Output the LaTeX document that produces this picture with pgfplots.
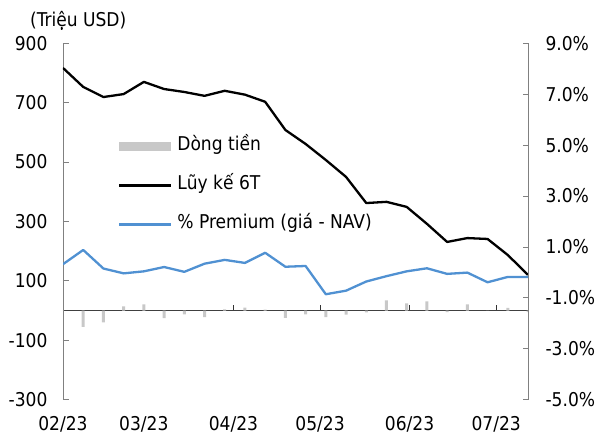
\documentclass[border=0pt]{standalone}
\usepackage{fontspec}
\setmainfont{DejaVu Sans Condensed}
\usepackage{pgfplots}
\usepackage{pgfplotstable}
\pgfplotsset{compat=1.18}
\definecolor{barg}{RGB}{200,200,200}
\definecolor{blu}{RGB}{80,145,210}
\definecolor{axg}{RGB}{128,128,128}
\pgfplotstableread{
d flow cum prem
0 0 817 0.32
7 -55 753 0.88
14 -40 719 0.15
21 14 729 -0.04
28 21 770 0.04
35 -26 746 0.21
42 -13 736 0.02
49 -22 723 0.34
56 4 740 0.49
63 10 727 0.37
70 3 703 0.77
77 -25 608 0.22
84 -13 561 0.25
91 -22 507 -0.86
98 -14 450 -0.72
105 -6 362 -0.36
112 34 366 -0.15
119 24 349 0.04
126 31 292 0.16
133 -5 231 -0.06
140 21 244 -0.01
147 0 241 -0.39
154 9 187 -0.18
161 -5 120 -0.18
}\data
\begin{document}
\begin{tikzpicture}[font=\fontsize{19}{22}\selectfont]
\path[use as bounding box] (-63pt,-40.4pt) rectangle (537pt,399.6pt);
\begin{axis}[
  at={(0,0)}, anchor=south west,
  width=465pt, height=356.3pt, scale only axis,
  xmin=0, xmax=161, ymin=-300, ymax=900,
  axis y line*=left, axis x line=middle,
  hide obscured x ticks=false,
  x axis line style={-, black!75, line width=0.8pt},
  y axis line style={-, axg, line width=0.9pt},
  xtick={0,28,59,89,120,150},
  xticklabels={02/23,03/23,04/23,05/23,06/23,07/23},
  xtick align=center,
  x tick style={black!80, line width=0.8pt, yshift=3pt},
  major tick length=6pt,
  xticklabel style={yshift=-99pt},
  ytick={-300,-100,100,300,500,700,900},
  y tick style={axg, line width=0.8pt},
  ytick align=inside,
  yticklabel style={xshift=-12pt},
  /pgf/number format/assume math mode=true,
  tick label style={font=\fontsize{19}{22}\selectfont},
  legend style={at={(axis description cs:0.118,0.735)}, anchor=north west,
    draw=none, fill=none, inner sep=0pt, row sep=22pt, column sep=5pt,
    nodes={inner sep=0pt, text height=13pt, text depth=4pt},
    font=\fontsize{19}{22}\selectfont},
  legend cell align=left,
]
\addplot[ybar, bar width=3pt, fill=barg, draw=none,
  legend image code/.code={\fill[barg] (0pt,-4.5pt) rectangle (52pt,4.5pt);}]
  table[x=d, y=flow] {\data};
\addlegendentry{Dòng tiền}
\addplot[black, line width=2.3pt, line join=round,
  legend image code/.code={\draw[black, line width=2.3pt] (0pt,0pt) -- (52pt,0pt);}]
  table[x=d, y=cum] {\data};
\addlegendentry{Lũy kế 6T}
\addlegendimage{legend image code/.code={\draw[blu, line width=2.3pt] (0pt,0pt) -- (52pt,0pt);}}
\addlegendentry{\% Premium (giá - NAV)}
\end{axis}
\begin{axis}[
  at={(0,0)}, anchor=south west,
  width=465pt, height=356.3pt, scale only axis,
  xmin=0, xmax=161, ymin=-5, ymax=9,
  axis y line*=right, axis x line=none,
  y axis line style={-, axg, line width=0.9pt},
  ytick={-5,-3,-1,1,3,5,7,9},
  y tick style={axg, line width=0.8pt},
  ytick align=inside, major tick length=5pt,
  yticklabel={\pgfmathprintnumber[fixed,fixed zerofill,precision=1,assume math mode=true]{\tick}\%},
  yticklabel style={xshift=14pt},
  tick label style={font=\fontsize{19}{22}\selectfont},
]
\addplot[blu, line width=2.3pt, line join=round] table[x=d, y=prem] {\data};
\end{axis}
\node[anchor=base west, inner sep=0pt] at (-33pt,372.6pt) {(Triệu USD)};
\end{tikzpicture}
\end{document}
